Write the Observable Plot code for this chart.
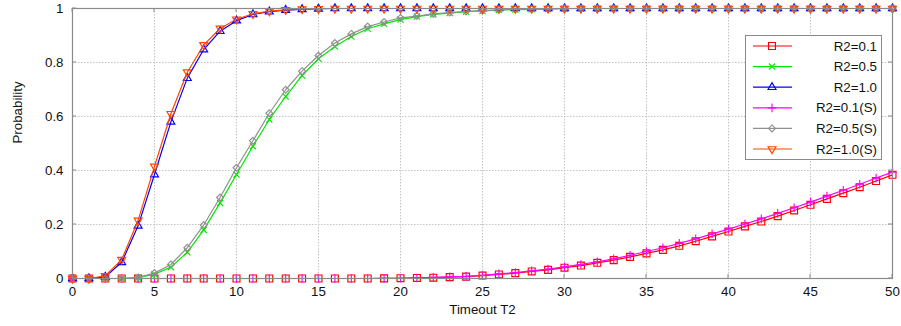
<!DOCTYPE html>
<html>
<head>
<meta charset="utf-8">
<script src="https://cdn.jsdelivr.net/npm/d3@7"></script>
<script src="https://cdn.jsdelivr.net/npm/@observablehq/plot@0.6"></script>
<style>
  html, body { margin: 0; padding: 0; background: #fff; }
  #chart { width: 901px; height: 326px; }
</style>
</head>
<body>
<div id="chart"></div>
<script>
const T2 = [0,1,2,3,4,5,6,7,8,9,10,11,12,13,14,15,16,17,18,19,20,21,22,23,24,25,26,27,28,29,30,31,32,33,34,35,36,37,38,39,40,41,42,43,44,45,46,47,48,49,50];

const r01 = [0,0,0,0,0,0,0,0,0,0,0,0,0,0,0,0,0,0,0,
  0.0005,0.001,0.002,0.003,0.005,0.007,0.011,0.015,0.020,0.026,0.032,
  0.040,0.048,0.058,0.068,0.080,0.093,0.106,0.121,0.138,0.156,
  0.174,0.193,0.211,0.231,0.252,0.273,0.295,0.316,0.338,0.361,0.384];
const r05 = [0,0,0,0,0.003,0.016,0.042,0.097,0.18,0.28,0.385,0.49,0.589,0.674,0.752,0.814,0.859,0.896,0.925,0.943,
  0.959,0.97,0.978,0.983,0.988,0.991,0.994,0.996,0.997,0.998,0.999,
  1,1,1,1,1,1,1,1,1,1,1,1,1,1,1,1,1,1,1,1];
const r10 = [0,0,0.006,0.06,0.195,0.385,0.58,0.742,0.848,0.916,0.955,0.978,0.988,0.994,0.997,0.999,
  1,1,1,1,1,1,1,1,1,1,1,1,1,1,1,1,1,1,1,1,1,1,1,1,1,1,1,1,1,1,1,1,1,1,1];
const r01s = [0,0,0,0,0,0,0,0,0,0,0,0,0,0,0,0,0,0,0,
  0.0007,0.001,0.002,0.004,0.006,0.008,0.012,0.017,0.022,0.028,0.035,
  0.043,0.052,0.062,0.073,0.086,0.100,0.114,0.130,0.147,0.165,
  0.183,0.202,0.221,0.241,0.262,0.283,0.305,0.327,0.349,0.372,0.394];
const r05s = [0,0,0,0,0.004,0.02,0.052,0.114,0.198,0.3,0.41,0.51,0.612,0.699,0.768,0.826,0.872,0.906,0.933,0.95,
  0.965,0.972,0.98,0.985,0.989,0.992,0.995,0.997,0.998,0.999,
  1,1,1,1,1,1,1,1,1,1,1,1,1,1,1,1,1,1,1,1,1];
const r10s = [0,0,0.01,0.07,0.215,0.415,0.61,0.764,0.865,0.926,0.96,0.98,0.99,0.995,0.998,0.999,
  1,1,1,1,1,1,1,1,1,1,1,1,1,1,1,1,1,1,1,1,1,1,1,1,1,1,1,1,1,1,1,1,1,1,1];

const seriesNames = ["R2=0.1","R2=0.5","R2=1.0","R2=0.1(S)","R2=0.5(S)","R2=1.0(S)"];
const seriesValues = [r01, r05, r10, r01s, r05s, r10s];
const seriesColors = ["#ff0000","#00e600","#0000ff","#ff00ff","#909090","#ff4500"];
const seriesSymbols = ["square2","times","triangle2","plus","diamond2","triangle2"];
const seriesRadius = [4.4, 2.9, 3.8, 2.9, 3.1, 3.8];
const seriesRotate = [0,0,0,0,0,180];

const xTicks = [0,5,10,15,20,25,30,35,40,45,50];
const yTicks = [0,0.2,0.4,0.6,0.8,1];
const yTickLabels = ["0","0.2","0.4","0.6","0.8","1"];

const d3Symbols = {square2: d3.symbolSquare2, times: d3.symbolTimes, triangle2: d3.symbolTriangle2, plus: d3.symbolPlus, diamond2: d3.symbolDiamond2};

const marks = [
  Plot.gridX(xTicks, {stroke: "#c4c4c4", strokeOpacity: 1, strokeDasharray: "1.5,1.5"}),
  Plot.gridY(yTicks, {stroke: "#c4c4c4", strokeOpacity: 1, strokeDasharray: "1.5,1.5"}),
  Plot.axisX(xTicks, {anchor: "bottom", tickSize: 0, tickPadding: 8, tickFormat: d => String(d), label: null, fill: "#111"}),
  Plot.axisY(yTicks, {anchor: "left", tickSize: 0, tickPadding: 9, tickFormat: (d, i) => yTickLabels[i], label: null, fill: "#111"}),
  Plot.text(["Timeout T2"], {frameAnchor: "bottom", dy: 35, fill: "#111"}),
  Plot.text(["Probability"], {frameAnchor: "left", dx: -55, rotate: -90, fill: "#111"})
];

seriesValues.forEach((vals, s) => {
  const data = T2.map((t, i) => ({t, v: vals[i]}));
  marks.push(Plot.line(data, {x: "t", y: "v", stroke: seriesColors[s], strokeWidth: 1.2}));
  marks.push(Plot.dot(data, {x: "t", y: "v", stroke: seriesColors[s], fill: "none", symbol: seriesSymbols[s], r: seriesRadius[s], strokeWidth: 1.15, rotate: seriesRotate[s]}));
});

marks.push(Plot.frame({stroke: "#8a8a8a", strokeWidth: 1.2}));

const chart = Plot.plot({
  width: 901,
  height: 326,
  marginLeft: 72,
  marginRight: 9,
  marginTop: 8,
  marginBottom: 48,
  x: {domain: [0, 50]},
  y: {domain: [0, 1]},
  style: {fontFamily: "'Liberation Sans', Arial, sans-serif", fontSize: "13.3px", background: "#fff", overflow: "visible"},
  marks
});

// inward tick marks (gnuplot style), drawn via the plot's scales
const sx = chart.scale("x"), sy = chart.scale("y");
const svg = d3.select(chart);
const tickG = svg.append("g").attr("stroke", "#8a8a8a").attr("stroke-width", 1);
const y0 = sy.apply(0), y1 = sy.apply(1), x0 = sx.apply(0), x1 = sx.apply(50);
xTicks.forEach(t => {
  const px = sx.apply(t);
  tickG.append("line").attr("x1", px).attr("x2", px).attr("y1", y0).attr("y2", y0 - 4);
  tickG.append("line").attr("x1", px).attr("x2", px).attr("y1", y1).attr("y2", y1 + 4);
});
yTicks.forEach(t => {
  const py = sy.apply(t);
  tickG.append("line").attr("x1", x0).attr("x2", x0 + 4).attr("y1", py).attr("y2", py);
  tickG.append("line").attr("x1", x1).attr("x2", x1 - 4).attr("y1", py).attr("y2", py);
});

// legend box
const lg = svg.append("g").attr("font-family", "'Liberation Sans', Arial, sans-serif").attr("font-size", "13.3px");
lg.append("rect").attr("x", 745.5).attr("y", 35.5).attr("width", 136).attr("height", 124)
  .attr("fill", "#fff").attr("stroke", "#8a8a8a").attr("stroke-width", 1);
seriesNames.forEach((name, s) => {
  const ly = 46 + s * 20.6;
  lg.append("line").attr("x1", 753).attr("x2", 792).attr("y1", ly).attr("y2", ly)
    .attr("stroke", seriesColors[s]).attr("stroke-width", 1.2);
  const r = seriesRadius[s];
  lg.append("path").attr("d", d3.symbol(d3Symbols[seriesSymbols[s]], r * r * Math.PI)())
    .attr("transform", `translate(772,${ly}) rotate(${seriesRotate[s]})`)
    .attr("fill", "none").attr("stroke", seriesColors[s]).attr("stroke-width", 1.15);
  lg.append("text").attr("x", 877).attr("y", ly).attr("dy", "0.35em").attr("text-anchor", "end")
    .attr("fill", "#111").text(name);
});

document.getElementById("chart").appendChild(chart);
</script>
</body>
</html>
